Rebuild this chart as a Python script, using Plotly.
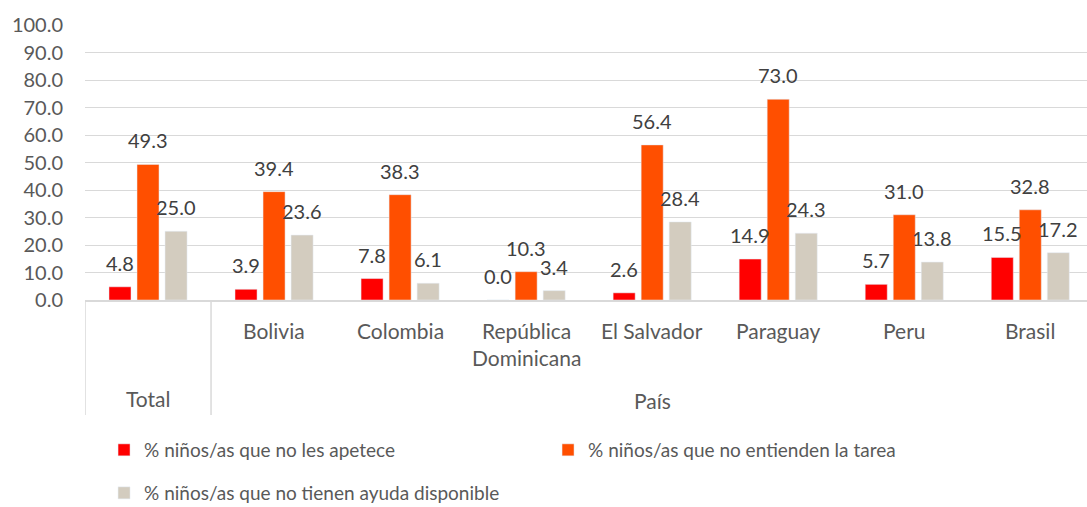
import plotly.graph_objects as go

categories = ["", "Bolivia", "Colombia", "República<br>Dominicana", "El Salvador", "Paraguay", "Peru", "Brasil"]
groups = ["Total", "País"]
series_names = [
    "% niños/as que no les apetece",
    "% niños/as que no entienden la tarea",
    "% niños/as que no tienen ayuda disponible",
]
no_apetece = [4.8, 3.9, 7.8, 0.0, 2.6, 14.9, 5.7, 15.5]
no_entienden = [49.3, 39.4, 38.3, 10.3, 56.4, 73.0, 31.0, 32.8]
sin_ayuda = [25.0, 23.6, 6.1, 3.4, 28.4, 24.3, 13.8, 17.2]
y_ticks = [0, 10, 20, 30, 40, 50, 60, 70, 80, 90, 100]

colors = ["#FF0000", "#FF4F00", "#D3CCBF"]
FONT = "Lato"
AXIS_TEXT = "#595959"
LABEL_TEXT = "#404040"

W, H = 1087, 507
PLOT_TOP, PLOT_BOTTOM = 25, 300
PH = PLOT_BOTTOM - PLOT_TOP


def py(pix):
    return (PLOT_BOTTOM - pix) / PH


xs = list(range(len(categories)))
BARGAP = 0.333
series = [no_apetece, no_entienden, sin_ayuda]

fig = go.Figure()
for k, (name, vals) in enumerate(zip(series_names, series)):
    fig.add_trace(go.Bar(
        x=xs, y=vals, name=name, marker_color=colors[k],
        legend="legend" if k < 2 else "legend2",
        hoverinfo="y",
    ))

annotations = []
slot = (1 - BARGAP) / 3
for k, vals in enumerate(series):
    for i, v in enumerate(vals):
        annotations.append(dict(
            x=i + (k - 1) * slot, y=v, xref="x", yref="y",
            text=f"{v:.1f}", showarrow=False, yanchor="middle", yshift=24,
            font=dict(family=FONT, size=20, color=LABEL_TEXT),
        ))

for i, c in enumerate(categories):
    for j, line in enumerate(c.split("<br>")):
        if line:
            annotations.append(dict(
                x=i, y=py(330 + 27 * j), xref="x", yref="paper", text=line,
                showarrow=False, yanchor="middle",
                font=dict(family=FONT, size=21, color=AXIS_TEXT),
            ))

annotations.append(dict(x=0, y=py(399), xref="x", yref="paper", text=groups[0],
                        showarrow=False, yanchor="middle",
                        font=dict(family=FONT, size=21, color=AXIS_TEXT)))
annotations.append(dict(x=4, y=py(400), xref="x", yref="paper", text=groups[1],
                        showarrow=False, yanchor="middle",
                        font=dict(family=FONT, size=21, color=AXIS_TEXT)))

shapes = []
for xd in [-0.5, 0.5]:
    shapes.append(dict(type="line", xref="x", yref="paper", x0=xd, x1=xd,
                       y0=0, y1=py(415), line=dict(color="#D9D9D9", width=1.5)))

fig.update_layout(
    width=W, height=H,
    margin=dict(l=85, r=0, t=PLOT_TOP, b=H - PLOT_BOTTOM, autoexpand=False),
    paper_bgcolor="white", plot_bgcolor="white",
    barmode="group", bargap=BARGAP, bargroupgap=0.214,
    font=dict(family=FONT, size=19, color=AXIS_TEXT),
    xaxis=dict(range=[-0.5, 7.45], showticklabels=False, showgrid=False,
               zeroline=False, showline=True, linecolor="#D9D9D9", linewidth=1.5,
               ticks=""),
    yaxis=dict(range=[0, 100], tickvals=y_ticks,
               ticktext=[f"{t:.1f}" for t in y_ticks],
               showgrid=True, gridcolor="#D9D9D9", gridwidth=1.3,
               zeroline=False, showline=False, ticks="",
               ticklabelstandoff=21,
               tickfont=dict(family=FONT, size=20, color=AXIS_TEXT)),
    showlegend=True,
    legend=dict(orientation="h", xref="container", yref="container",
                x=(85 + 0.019 * 1002) / W, xanchor="left",
                y=1 - 431 / H, yanchor="top",
                entrywidth=399, entrywidthmode="pixels",
                font=dict(family=FONT, size=19, color=AXIS_TEXT),
                bgcolor="rgba(0,0,0,0)"),
    legend2=dict(orientation="h", xref="container", yref="container",
                 x=(85 + 0.019 * 1002) / W, xanchor="left",
                 y=1 - 474 / H, yanchor="top",
                 font=dict(family=FONT, size=19, color=AXIS_TEXT),
                 bgcolor="rgba(0,0,0,0)"),
    annotations=annotations,
    shapes=shapes,
)

fig.write_html("out.html", post_script="document.body.style.margin='0';",
               config={"displayModeBar": False})
